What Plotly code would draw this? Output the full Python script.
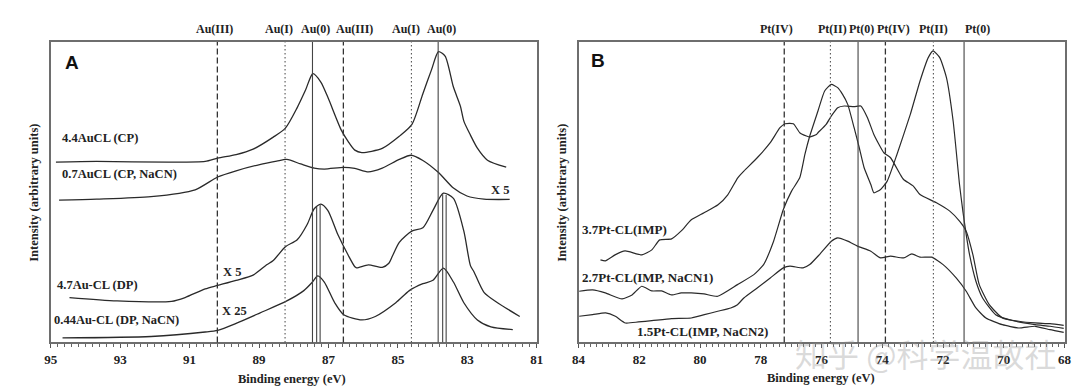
import numpy as np
import plotly.graph_objects as go

# ---------------- Panel A data (binding energy eV, intensity a.u.) ----------------
ev_A1 = [94.85, 93.68, 91.62, 90.55, 90.19, 89.66, 89.17, 88.59, 88.24, 87.90, 87.66, 87.45, 87.22,
         87.02, 86.63, 86.43, 86.24, 86.04, 85.45, 84.96, 84.60, 84.28, 84.03, 83.83, 83.64, 83.40,
         83.20, 83.10, 82.91, 82.71, 82.42, 81.88]
int_A1 = [180, 180.7, 180, 180.7, 184, 187.5, 193, 205, 214, 234.5, 252, 268.3, 260,
          245, 212, 200.6, 192, 189.6, 193.7, 205.8, 217.4, 248.4, 272.4, 290.4, 286, 255,
          236, 221, 207, 194, 182, 175]

ev_A2 = [94.76, 93.68, 92.11, 90.84, 90.19, 89.66, 88.98, 88.49, 88.20, 87.80, 87.41, 87.12, 86.56,
         86.24, 85.85, 85.45, 84.96, 84.62, 84.28, 83.83, 83.40, 83.01, 82.52, 81.78]
int_A2 = [142, 143, 145.5, 152.4, 165.2, 171.4, 177.6, 181, 182.7, 178.2, 174.1, 173.1, 174.8,
          173.8, 170.3, 174.1, 182.7, 186.9, 181.7, 169.6, 154.1, 146.2, 143.1, 142.8]

ev_A3 = [94.46, 93.09, 91.52, 91.13, 90.55, 90.19, 89.66, 89.17, 88.78, 88.59, 88.24, 87.90, 87.61,
         87.41, 87.22, 87.02, 86.73, 86.43, 86.24, 86.19, 85.85, 85.45, 85.26, 85.16, 84.96, 84.60,
         84.28, 83.99, 83.69, 83.40, 83.10, 82.91, 82.81, 82.52, 82.13, 81.49]
int_A3 = [44.8, 41.4, 41, 44.8, 53.4, 56.9, 62, 67.2, 77.5, 81.8, 95.6, 102.5, 118,
          133.5, 138, 131.8, 107.7, 87, 75.5, 74.5, 77.5, 75, 79, 86, 100, 111.1,
          114.5, 131.8, 149, 143.8, 111.1, 76.7, 70.6, 50, 39.6, 25.9]

ev_A4 = [94.66, 92.11, 90.55, 90.19, 89.66, 88.98, 88.20, 87.71, 87.46, 87.31, 87.12, 86.82, 86.56,
         86.04, 85.65, 85.06, 84.67, 84.28, 83.99, 83.69, 83.40, 83.10, 82.71, 82.32, 81.69]
int_A4 = [4.5, 5.9, 10.4, 12.1, 19, 29.3, 41.4, 51.7, 60.3, 66.5, 60.3, 39.6, 27.6,
          22.4, 25.9, 39.6, 51.7, 58.6, 62, 74.1, 60.3, 39.6, 22.4, 15.5, 12.8]

au_lines = [90.2, 88.25, 87.46, 86.57, 84.61, 83.84]
au_labels = ["Au(III)", "Au(I)", "Au(0)", "Au(III)", "Au(I)", "Au(0)"]
au_label_px = [202, 267, 304, 343.5, 395.7, 432.5]
au_peak_marks = [87.34, 87.24, 83.71, 83.61]

# ---------------- Panel B data ----------------
ev_B1 = [83.28, 83.12, 82.80, 82.47, 81.92, 81.59, 81.33, 80.94, 80.62, 80.29, 79.87, 79.41, 79.09,
         78.76, 78.56, 78.12, 77.69, 77.37, 77.20, 76.93, 76.72, 76.50, 76.39, 76.17, 76.12, 75.85,
         75.68, 75.47, 75.25, 74.93, 74.71, 74.49, 74.28, 73.95, 73.73, 73.41, 73.30, 72.98, 72.76,
         72.22, 71.78, 71.46, 71.24, 71.02, 70.81, 70.48, 70.05, 69.51, 68.97, 68.48, 68.03]
int_B1 = [82.4, 81.4, 87.4, 91.4, 87.4, 92.4, 102.4, 103.4, 111.4, 122.4, 129.4, 137.4, 147.4,
          164.4, 171.1, 184.4, 199.4, 214.4, 218.4, 218.4, 209.4, 206.1, 205.1, 207.7, 209.4, 217.7,
          226.1, 234.4, 236.1, 235.4, 236.1, 224.4, 207.7, 189.4, 184.4, 167.7, 162.7, 156.1, 147.7,
          139.4, 131.1, 121.1, 111.1, 87.7, 57.7, 37.7, 24.4, 21.1, 19.4, 18.7, 17]

ev_B2 = [83.98, 83.54, 83.12, 82.57, 82.24, 81.92, 81.59, 81.27, 80.94, 80.62, 80.29, 79.87, 79.42,
         78.77, 78.23, 77.91, 77.58, 77.26, 76.99, 76.72, 76.55, 76.39, 76.12, 75.90, 75.68, 75.47,
         75.31, 75.14, 74.93, 74.76, 74.60, 74.38, 74.28, 74.06, 73.84, 73.52, 73.08, 72.76, 72.49,
         72.33, 72.11, 71.89, 71.67, 71.46, 71.35, 71.24, 71.13, 70.92, 70.70, 70.27, 69.62, 68.97,
         68.48, 68.03]
int_B2 = [51.1, 52.4, 49.4, 43.4, 47.4, 56.1, 51.4, 51.4, 47.4, 49.4, 49.4, 48.4, 46.1,
          57.7, 67.7, 77.7, 101.1, 132.7, 151.1, 164.4, 187.7, 206.1, 231.1, 251.1, 257.7, 254.4,
          247.7, 237.7, 214.4, 194.4, 174.4, 157.7, 149.4, 152.7, 161.1, 187.7, 227.7, 261.1, 284.4,
          291.1, 284.4, 264.4, 221.1, 157.7, 131.1, 107.7, 87.7, 61.1, 44.4, 27.7, 21.1, 17.7,
          16.1, 14]

ev_B3 = [83.98, 83.54, 83.11, 82.79, 82.46, 82.03, 81.59, 80.94, 80.29, 79.86, 79.42, 78.99, 78.77,
         78.56, 78.12, 77.69, 77.26, 77.04, 76.61, 76.39, 76.07, 75.68, 75.47, 75.14, 74.82, 74.38,
         74.06, 73.73, 73.30, 73.03, 72.76, 72.38, 72.00, 71.57, 71.24, 70.92, 70.59, 70.05, 69.51,
         68.97, 68.48, 68.03]
int_B3 = [26.1, 27.7, 29.4, 26.1, 19.4, 20.4, 21.7, 23.7, 24.4, 27.7, 31.1, 34.4, 37.7,
          44.4, 54.4, 64.4, 74.4, 76.1, 74.4, 77.7, 87.7, 101.1, 104.4, 101.1, 96.1, 91.1,
          84.4, 86.1, 84.4, 88.4, 85.1, 85.1, 77.7, 64.4, 51.1, 34.4, 24.4, 17.7, 14.4,
          16.1, 12.7, 10]

pt_lines = [77.23, 75.71, 74.80, 73.90, 72.32, 71.31]
pt_labels = ["Pt(IV)", "Pt(II)", "Pt(0)", "Pt(IV)", "Pt(II)", "Pt(0)"]
pt_label_px = [772, 828, 858, 890, 930.5, 975.3]
line_kinds = ["dash", "dot", "solid", "dash", "dot", "solid"]

SERIF = "Liberation Serif, Times New Roman, serif"
CURVE = dict(color="#2a2a2a", width=1.3, shape="spline", smoothing=0.7)

fig = go.Figure()
for xs, ys in [(ev_A1, int_A1), (ev_A2, int_A2), (ev_A3, int_A3), (ev_A4, int_A4)]:
    fig.add_trace(go.Scatter(x=xs, y=ys, mode="lines", line=CURVE, xaxis="x", yaxis="y",
                             showlegend=False, hoverinfo="skip"))
for xs, ys in [(ev_B1, int_B1), (ev_B2, int_B2), (ev_B3, int_B3)]:
    fig.add_trace(go.Scatter(x=xs, y=ys, mode="lines",
                             line=dict(color="#2a2a2a", width=1.2, shape="spline", smoothing=0.5),
                             xaxis="x2", yaxis="y2", showlegend=False, hoverinfo="skip"))

dash_map = {"dash": "6px,3px", "dot": "1.5px,2.5px", "solid": "solid"}
width_map = {"dash": 1.3, "dot": 1.1, "solid": 1.1}
color_map = {"dash": "#333", "dot": "#555", "solid": "#444"}

shapes = []
annotations = []
top_y = (386 - 21) / 386
for xref, yref, lines, labels, lpx in [("x", "y domain", au_lines, au_labels, au_label_px),
                                       ("x2", "y2 domain", pt_lines, pt_labels, pt_label_px)]:
    for xv, lab, kind, px in zip(lines, labels, line_kinds, lpx):
        shapes.append(dict(type="line", xref=xref, yref=yref, x0=xv, x1=xv, y0=0, y1=1,
                           line=dict(color=color_map[kind], width=width_map[kind], dash=dash_map[kind])))
        annotations.append(dict(x=px / 1080, y=top_y, xref="paper", yref="paper", text=lab,
                                showarrow=False, xanchor="center", yanchor="middle",
                                font=dict(family=SERIF, size=12, color="#222", weight="bold")))

# short peak markers on panel A (from baseline up to the 4.7Au-CL curve)
a3x = np.array(ev_A3)[::-1]
a3y = np.array(int_A3)[::-1]
for xv in au_peak_marks:
    top = float(np.interp(xv, a3x, a3y))
    shapes.append(dict(type="line", xref="x", yref="y", x0=xv, x1=xv, y0=0, y1=top,
                       line=dict(color="#444", width=1.1)))

def lab(x, y, text, xref="x", yref="y", anchor="left", size=12.5):
    annotations.append(dict(x=x, y=y, xref=xref, yref=yref, text=text, showarrow=False,
                            xanchor=anchor, yanchor="middle",
                            font=dict(family=SERIF, size=size, color="#222", weight="bold")))

lab(94.73, 204, "4.4AuCL (CP)")
lab(94.73, 168, "0.7AuCL (CP, NaCN)")
lab(82.05, 152.4, "X 5", anchor="center")
lab(89.77, 70.6, "X 5", anchor="center")
lab(94.88, 56.9, "4.7Au-CL (DP)")
lab(89.72, 31, "X 25", anchor="center")
lab(94.97, 22.4, "0.44Au-CL (DP, NaCN)")

lab(83.96, 112.7, "3.7Pt-CL(IMP)", "x2", "y2", size=13)
lab(83.97, 65.1, "2.7Pt-CL(IMP, NaCN1)", "x2", "y2", size=13)
lab(82.14, 11.1, "1.5Pt-CL(IMP, NaCN2)", "x2", "y2", size=13)

for x, y, t, xr, yr in [(94.66, 279.4, "A", "x", "y"), (83.65, 281.7, "B", "x2", "y2")]:
    annotations.append(dict(x=x, y=y, xref=xr, yref=yr, text=t, showarrow=False, xanchor="left",
                            yanchor="middle",
                            font=dict(family="Liberation Sans, Arial, sans-serif", size=19,
                                      color="#111", weight="bold")))

# axis titles
for xc, yc in [(281 / 1080, (386 - 371) / 386), (817 / 1080, (386 - 370) / 386)]:
    annotations.append(dict(x=xc, y=yc, xref="paper", yref="paper", text="Binding energy (eV)",
                            showarrow=False, xanchor="center", yanchor="middle",
                            font=dict(family=SERIF, size=12.5, color="#222", weight="bold")))
for xc in [19 / 1080, 554 / 1080]:
    annotations.append(dict(x=xc, y=(386 - 185) / 386, xref="paper", yref="paper",
                            text="Intensity (arbitrary units)", textangle=-90, showarrow=False,
                            xanchor="center", yanchor="middle",
                            font=dict(family=SERIF, size=12.5, color="#222", weight="bold")))

# watermark
annotations.append(dict(x=922 / 1080, y=(386 - 345) / 386, xref="paper", yref="paper",
                        text="知乎 @科学温故社", showarrow=False, xanchor="center", yanchor="middle",
                        font=dict(family="Noto Sans CJK SC", size=32, color="rgba(150,150,150,0.35)")))

ydom = [(386 - 334.4) / 386, (386 - 34.0) / 386]
xaxis_common = dict(showline=True, mirror=True, linecolor="#6e6e6e", linewidth=1.5,
                    ticks="outside", ticklen=4, tickwidth=1, tickcolor="#555",
                    tickmode="linear", dtick=2, showgrid=False, zeroline=False,
                    ticklabelstandoff=0,
                    tickfont=dict(family=SERIF, size=13, color="#222", weight="bold"),
                    minor=dict(ticks="outside", dtick=0.2, tick0=0, ticklen=2.5, tickcolor="#666",
                               showgrid=False))
yaxis_common = dict(showline=True, mirror=True, linecolor="#6e6e6e", linewidth=1.5,
                    showticklabels=False, ticks="", showgrid=False, zeroline=False,
                    range=[0, 300], domain=ydom)

fig.update_layout(
    width=1080, height=386,
    margin=dict(l=0, r=0, t=0, b=0),
    paper_bgcolor="white", plot_bgcolor="white",
    xaxis=dict(domain=[36.2 / 1080, 528.6 / 1080], range=[95, 81], tick0=1, anchor="y",
               **xaxis_common),
    yaxis=dict(anchor="x", **yaxis_common),
    xaxis2=dict(domain=[571 / 1080, 1063.4 / 1080], range=[84, 68], tick0=0, anchor="y2",
                **xaxis_common),
    yaxis2=dict(anchor="x2", **yaxis_common),
    shapes=shapes,
    annotations=annotations,
)

fig.write_html("out.html")
